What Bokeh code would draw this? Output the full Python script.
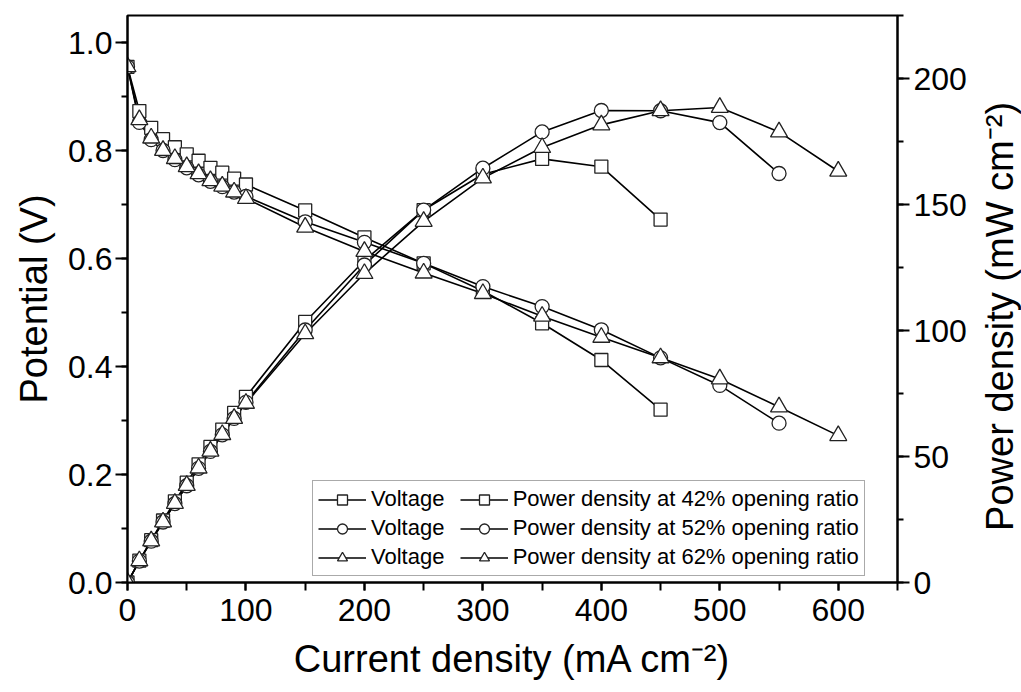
import math
from bokeh.plotting import figure
from bokeh.layouts import row
from bokeh.models import (Range1d, LinearAxis, SingleIntervalTicker, PrintfTickFormatter,
                          Legend, LegendItem, Label)
from bokeh.embed import file_html
from bokeh.resources import INLINE

# ---- data ----
current = [0, 10, 20, 30, 40, 50, 60, 70, 80, 90, 100, 150, 200, 250, 300, 350, 400, 450, 500, 550, 600]

volt_42 = [0.955, 0.873, 0.842, 0.821, 0.806, 0.793, 0.781, 0.768, 0.759, 0.748, 0.737,
           0.689, 0.639, 0.591, 0.540, 0.480, 0.412, 0.320]
volt_52 = [0.955, 0.852, 0.820, 0.800, 0.783, 0.768, 0.755, 0.743, 0.733, 0.723, 0.715,
           0.668, 0.630, 0.591, 0.548, 0.511, 0.468, 0.416, 0.365, 0.295]
volt_62 = [0.955, 0.857, 0.823, 0.800, 0.785, 0.770, 0.757, 0.744, 0.734, 0.723, 0.711,
           0.658, 0.613, 0.573, 0.535, 0.493, 0.454, 0.416, 0.377, 0.325, 0.272]

power_42 = [0.0, 8.7, 16.8, 24.6, 32.2, 39.6, 46.9, 53.8, 60.7, 67.3, 73.7,
            103.4, 127.8, 147.8, 162.0, 168.1, 165.0, 144.0]
power_52 = [0.0, 8.5, 16.4, 24.0, 31.3, 38.4, 45.3, 52.0, 58.6, 65.1, 71.5,
            100.2, 126.0, 147.8, 164.4, 178.8, 187.3, 187.2, 182.5, 162.3]
power_62 = [0.0, 8.6, 16.5, 24.0, 31.4, 38.5, 45.4, 52.1, 58.7, 65.1, 71.1,
            98.7, 122.6, 143.3, 160.5, 172.6, 181.6, 187.2, 188.5, 178.8, 163.2]

ratios = ["42%", "52%", "62%"]
markers = ["square", "circle", "triangle"]
marker_sizes = [13, 14, 17]

x_title = "Current density (mA cm\u207b\u00b2)"
y_title = "Potential (V)"
y2_title = "Power density (mW cm\u207b\u00b2)"

FONT = "Liberation Sans"

MAIN_W = 970
TOTAL_W = 1021
TOTAL_H = 691

p = figure(frame_width=770, frame_height=567,
           x_range=Range1d(0, 650), y_range=Range1d(0, 1.05),
           output_backend="svg", toolbar_location=None,
           min_border_left=127, min_border_top=15, min_border_right=MAIN_W - 127 - 770,
           min_border_bottom=5,
           background_fill_color="white", border_fill_color="white")
p.extra_y_ranges = {"power": Range1d(0, 225)}
p.xgrid.visible = False
p.ygrid.visible = False
p.outline_line_color = "black"
p.outline_line_width = 2

right_axis = LinearAxis(y_range_name="power")
p.add_layout(right_axis, "right")


def style_axis(ax, tick_len):
    ax.axis_line_color = "black"
    ax.axis_line_width = 2
    ax.major_tick_line_color = "black"
    ax.major_tick_line_width = 2
    ax.minor_tick_line_color = "black"
    ax.minor_tick_line_width = 2
    ax.major_tick_in = 0
    ax.minor_tick_in = 0
    ax.major_tick_out = tick_len[0]
    ax.minor_tick_out = tick_len[1]
    ax.major_label_text_font = FONT
    ax.major_label_text_font_size = "32px"
    ax.major_label_text_color = "black"
    ax.axis_label_text_font = FONT
    ax.axis_label_text_font_size = "38px"
    ax.axis_label_text_font_style = "normal"
    ax.axis_label_text_color = "black"


xax = p.xaxis[0]
yax = p.yaxis[0]
style_axis(xax, (8, 8))
style_axis(yax, (12, 6))
style_axis(right_axis, (12, 6))

xax.ticker = SingleIntervalTicker(interval=100, num_minor_ticks=2)
xax.axis_label = x_title
xax.major_label_standoff = 8
xax.axis_label_standoff = 14

yax.ticker = SingleIntervalTicker(interval=0.2, num_minor_ticks=2)
yax.formatter = PrintfTickFormatter(format="%.1f")
yax.axis_label = y_title
yax.major_label_standoff = 3
yax.axis_label_standoff = 10

right_axis.ticker = SingleIntervalTicker(interval=50, num_minor_ticks=2)
right_axis.major_label_standoff = 4

volts = [volt_42, volt_52, volt_62]
powers = [power_42, power_52, power_62]

lines_v, lines_p = [], []
for i in range(3):
    n = len(volts[i])
    lv = p.line(current[:n], volts[i], line_color="black", line_width=1.6)
    lp = p.line(current[:n], powers[i], line_color="black", line_width=1.6, y_range_name="power")
    lines_v.append(lv)
    lines_p.append(lp)

marks_v, marks_p = [], []
for i in range(3):
    n = len(volts[i])
    mv = p.scatter(current[:n], volts[i], marker=markers[i], size=marker_sizes[i],
                   fill_color="white", line_color="#222222", line_width=1.3)
    mp = p.scatter(current[:n], powers[i], marker=markers[i], size=marker_sizes[i],
                   fill_color="white", line_color="#222222", line_width=1.3,
                   y_range_name="power")
    marks_v.append(mv)
    marks_p.append(mp)

items = []
for i in range(3):
    items.append(LegendItem(label="Voltage  ", renderers=[lines_v[i], marks_v[i]]))
    items.append(LegendItem(label="Power density at %s opening ratio" % ratios[i],
                            renderers=[lines_p[i], marks_p[i]]))

legend = Legend(items=items, orientation="horizontal", ncols=2,
                location=(185, 6),
                label_text_font=FONT, label_text_font_size="22px", label_text_color="black",
                glyph_width=48, glyph_height=25, label_height=25, label_standoff=5,
                spacing=3, padding=5,
                border_line_color="#555555", border_line_width=1.5,
                background_fill_color="white", background_fill_alpha=1.0)
p.add_layout(legend)

# narrow strip to the right holding the right-axis title, reading bottom-to-top
p2 = figure(width=TOTAL_W - MAIN_W, height=TOTAL_H,
            x_range=Range1d(MAIN_W, TOTAL_W), y_range=Range1d(TOTAL_H, 0),
            output_backend="svg", toolbar_location=None, min_border=0,
            background_fill_color="white", border_fill_color="white")
p2.axis.visible = False
p2.grid.visible = False
p2.outline_line_color = None
p2.add_layout(Label(x=999, y=361, text=y2_title, angle=math.pi / 2, text_align="center",
                    text_baseline="alphabetic", text_font=FONT, text_font_size="38px",
                    text_color="black"))

layout = row(p, p2)
open("out.html", "w").write(file_html(layout, INLINE))
